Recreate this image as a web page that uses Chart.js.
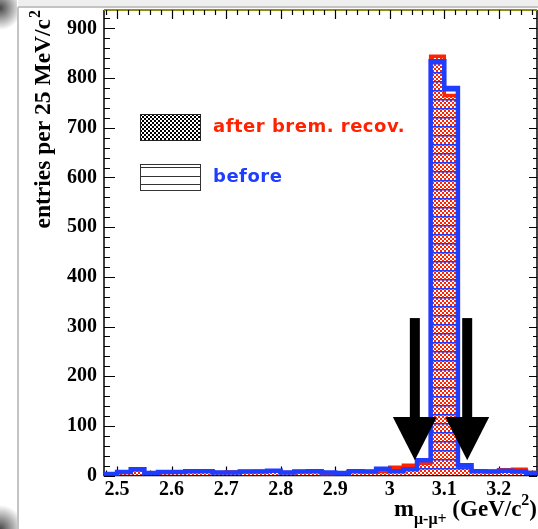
<!DOCTYPE html>
<html>
<head>
  <title>m(mu-mu+) before / after brem. recovery</title>
  <style>
    body {
      margin: 0;
      overflow: hidden;
      background: #fff;
    }
    #chart-box {
      position: relative;
      width: 538px;
      height: 529px;
    }
  </style>
</head>
<body>
  <div id="chart-box"><canvas id="mass-chart" width="538" height="529"></canvas></div>
  <script src="https://cdn.jsdelivr.net/npm/chart.js"></script>
  <script>
    // 25 MeV bins, lower edges in GeV/c^2
    const binLow = [2.475, 2.5, 2.525, 2.55, 2.575, 2.6, 2.625, 2.65, 2.675, 2.7, 2.725, 2.75,
                    2.775, 2.8, 2.825, 2.85, 2.875, 2.9, 2.925, 2.95, 2.975, 3.0, 3.025, 3.05,
                    3.075, 3.1, 3.125, 3.15, 3.175, 3.2, 3.225, 3.25];
    const binHigh = 3.275;

    const afterCounts  = [0, 6, 12, 5, 6, 7, 8, 9, 6, 7, 8, 9,
                          9, 6, 8, 8, 1, 0, 10, 8, 8, 17, 21, 25,
                          844, 765, 17, 10, 9, 12, 13, 6];
    const beforeCounts = [3, 7, 13, 5, 7, 7, 9, 9, 6, 6, 8, 8,
                          10, 6, 8, 9, 6, 5, 9, 8, 14, 9, 13, 31,
                          834, 780, 21, 9, 8, 10, 8, 5];

    const xTicks = [2.5, 2.6, 2.7, 2.8, 2.9, 3.0, 3.1, 3.2];
    const yTicks = [0, 100, 200, 300, 400, 500, 600, 700, 800, 900];

    const legendLabels = ["after brem. recov.", "before"];

    // J/psi mass window arrows: x of each arrow, and shaft top / head base / tip in entries
    const arrowX = [3.046, 3.142];
    const arrowLevels = [317, 118, 31];

    const RED = "#ff2200";
    const BLUE = "#1f3dff";

    function checkPattern(color) {
      const c = document.createElement("canvas");
      c.width = 4; c.height = 4;
      const g = c.getContext("2d");
      g.fillStyle = color;
      g.fillRect(0, 0, 4, 4);
      g.fillStyle = "#fff";
      g.fillRect(0, 0, 2, 2);
      g.fillRect(2, 2, 2, 2);
      return g.createPattern(c, "repeat");
    }

    function linePattern(color) {
      const c = document.createElement("canvas");
      c.width = 8; c.height = 9;
      const g = c.getContext("2d");
      g.fillStyle = color;
      g.fillRect(0, 0, 8, 1.5);
      return g.createPattern(c, "repeat");
    }

    function steps(counts) {
      const pts = binLow.map((x, i) => ({ x: x, y: counts[i] }));
      pts.push({ x: binHigh, y: counts[counts.length - 1] });
      return pts;
    }

    const serif = '"Liberation Serif", "Times New Roman", serif';

    const framePlugin = {
      id: "frame",
      beforeDraw(chart) {
        const ctx = chart.ctx;
        ctx.save();
        // window-ish border of the original picture
        ctx.fillStyle = "#efefef";
        ctx.fillRect(18, 0, 520, 7);
        ctx.strokeStyle = "#c4c4c4";
        ctx.lineWidth = 2;
        ctx.beginPath();
        ctx.moveTo(18, 7); ctx.lineTo(538, 7);
        ctx.moveTo(18, 7); ctx.lineTo(18, 529);
        ctx.stroke();
        let rg = ctx.createRadialGradient(0, 8, 1, 0, 8, 22);
        rg.addColorStop(0, "rgba(60,60,60,0.9)");
        rg.addColorStop(1, "rgba(60,60,60,0)");
        ctx.fillStyle = rg;
        ctx.fillRect(0, 0, 17, 30);
        rg = ctx.createRadialGradient(0, 529, 1, 0, 529, 24);
        rg.addColorStop(0, "rgba(60,60,60,0.9)");
        rg.addColorStop(1, "rgba(60,60,60,0)");
        ctx.fillStyle = rg;
        ctx.fillRect(0, 505, 17, 24);
        ctx.restore();
      },
      beforeDatasetsDraw(chart) {
        const ctx = chart.ctx;
        const a = chart.chartArea;
        const xs = chart.scales.x, ys = chart.scales.y;
        ctx.save();
        ctx.strokeStyle = "#000";
        ctx.lineWidth = 1.5;
        ctx.beginPath();
        ctx.moveTo(a.left, a.top); ctx.lineTo(a.left, a.bottom);
        ctx.lineTo(a.right, a.bottom); ctx.lineTo(a.right, a.top);
        ctx.stroke();
        ctx.strokeStyle = "#8f8f18";
        ctx.lineWidth = 2;
        ctx.beginPath();
        ctx.moveTo(a.left, a.top); ctx.lineTo(a.right, a.top);
        ctx.stroke();

        ctx.strokeStyle = "#000";
        ctx.lineWidth = 1.2;
        ctx.beginPath();
        for (let k = 0; k <= 46; k++) {
          const v = k * 20;
          const y = Math.round(ys.getPixelForValue(v)) + 0.5;
          if (y < a.top) continue;
          const major = v % 100 === 0;
          ctx.moveTo(a.left, y); ctx.lineTo(a.left + (major ? 11 : 6), y);
          ctx.moveTo(a.right, y); ctx.lineTo(a.right - (major ? 8 : 4), y);
        }
        for (let k = 124; k <= 163; k++) {
          const v = k * 0.02;
          const x = Math.round(xs.getPixelForValue(v)) + 0.5;
          if (x < a.left || x > a.right) continue;
          const major = k % 5 === 0;
          ctx.moveTo(x, a.bottom); ctx.lineTo(x, a.bottom - (major ? 9 : 5));
          ctx.moveTo(x, a.top); ctx.lineTo(x, a.top + (major ? 9 : 5));
        }
        ctx.stroke();
        ctx.restore();
      },
      afterDatasetsDraw(chart) {
        const ctx = chart.ctx;
        const xs = chart.scales.x, ys = chart.scales.y;
        ctx.save();

        // arrows
        ctx.fillStyle = "#000";
        arrowX.forEach(v => {
          const x = xs.getPixelForValue(v);
          const yTop = ys.getPixelForValue(arrowLevels[0]);
          const yBase = ys.getPixelForValue(arrowLevels[1]);
          const yTip = ys.getPixelForValue(arrowLevels[2]);
          ctx.fillRect(x - 5, yTop, 10, yBase - yTop + 2);
          ctx.beginPath();
          ctx.moveTo(x - 22, yBase);
          ctx.lineTo(x + 22, yBase);
          ctx.lineTo(x, yTip);
          ctx.closePath();
          ctx.fill();
        });

        // legend
        const bx = 140, bw = 60, bh = 26;
        const rows = [114, 164];
        ctx.fillStyle = checkPattern("#000");
        ctx.fillRect(bx, rows[0], bw, bh);
        ctx.strokeStyle = "#222";
        ctx.lineWidth = 1;
        ctx.strokeRect(bx + 0.5, rows[0] + 0.5, bw, bh);
        ctx.strokeStyle = "#333";
        ctx.strokeRect(bx + 0.5, rows[1] + 0.5, bw, bh);
        ctx.beginPath();
        [3, 12, 20].forEach(d => {
          ctx.moveTo(bx, rows[1] + d + 0.5);
          ctx.lineTo(bx + bw, rows[1] + d + 0.5);
        });
        ctx.stroke();

        ctx.font = 'bold 18px "DejaVu Sans"';
        ctx.letterSpacing = "0.5px";
        ctx.textBaseline = "middle";
        ctx.textAlign = "left";
        ctx.fillStyle = RED;
        ctx.fillText(legendLabels[0], 213, rows[0] + 13);
        ctx.fillStyle = BLUE;
        ctx.fillText(legendLabels[1], 213, rows[1] + 13);
        ctx.restore();
      },
      afterDraw(chart) {
        const ctx = chart.ctx;
        ctx.save();
        ctx.fillStyle = "#000";
        ctx.textBaseline = "alphabetic";

        // y title, rotated, reading upwards, ending near the top of the frame
        ctx.translate(50, 10);
        ctx.rotate(-Math.PI / 2);
        ctx.font = "bold 16px " + serif;
        const supW = ctx.measureText("2").width;
        ctx.textAlign = "right";
        ctx.fillText("2", 0, -10);
        ctx.font = "bold 23.5px " + serif;
        ctx.fillText("entries per 25 MeV/c", -supW - 1, 0);
        ctx.restore();

        // x title m_{mu-mu+} (GeV/c^2), right aligned
        ctx.save();
        ctx.fillStyle = "#000";
        ctx.textAlign = "left";
        const parts = [
          { t: "m", f: "bold 24px " + serif, dy: 0 },
          { t: "\u03bc-\u03bc+", f: "bold 16px " + serif, dy: 8 },
          { t: " (GeV/c", f: "bold 23px " + serif, dy: 0 },
          { t: "2", f: "bold 16px " + serif, dy: -11 },
          { t: ")", f: "bold 23px " + serif, dy: 0 }
        ];
        let total = 0;
        parts.forEach(p => { ctx.font = p.f; p.w = ctx.measureText(p.t).width; total += p.w; });
        let x = 537 - total;
        const base = 516;
        parts.forEach(p => {
          ctx.font = p.f;
          ctx.fillText(p.t, x, base + p.dy);
          x += p.w;
        });
        ctx.restore();
      }
    };

    const ctx = document.getElementById("mass-chart");
    const chart = new Chart(ctx, {
      type: "line",
      data: {
        datasets: [{
          label: legendLabels[1],
          data: steps(beforeCounts),
          stepped: "before",
          borderColor: BLUE,
          borderWidth: 4.5,
          backgroundColor: linePattern(BLUE),
          fill: "origin",
          pointRadius: 0
        }, {
          label: legendLabels[0],
          data: steps(afterCounts),
          stepped: "before",
          borderColor: RED,
          borderWidth: 3.5,
          backgroundColor: checkPattern(RED),
          fill: "origin",
          pointRadius: 0
        }]
      },
      options: {
        responsive: false,
        animation: false,
        layout: { padding: { top: 10, right: 1, left: 0, bottom: 0 } },
        plugins: {
          legend: { display: false },
          tooltip: { enabled: false }
        },
        scales: {
          x: {
            type: "linear",
            min: 2.476,
            max: 3.27,
            grid: { display: false, drawTicks: false },
            border: { display: false },
            afterBuildTicks: s => { s.ticks = xTicks.map(v => ({ value: v })); },
            afterFit: s => { s.height = 53.4; s.paddingLeft = 0; s.paddingRight = 0; },
            ticks: {
              maxRotation: 0,
              autoSkip: false,
              padding: 2,
              color: "#000",
              font: { family: serif, size: 20, weight: "bold" },
              callback: v => String(Number(v.toFixed(1)))
            }
          },
          y: {
            min: 0,
            max: 937,
            grid: { display: false, drawTicks: false },
            border: { display: false },
            afterBuildTicks: s => { s.ticks = yTicks.map(v => ({ value: v })); },
            afterFit: s => { s.width = 104; s.paddingTop = 0; s.paddingBottom = 0; },
            ticks: {
              autoSkip: false,
              padding: 7,
              color: "#000",
              font: { family: serif, size: 20, weight: "bold" }
            }
          }
        }
      },
      plugins: [framePlugin]
    });
  </script>
</body>
</html>
